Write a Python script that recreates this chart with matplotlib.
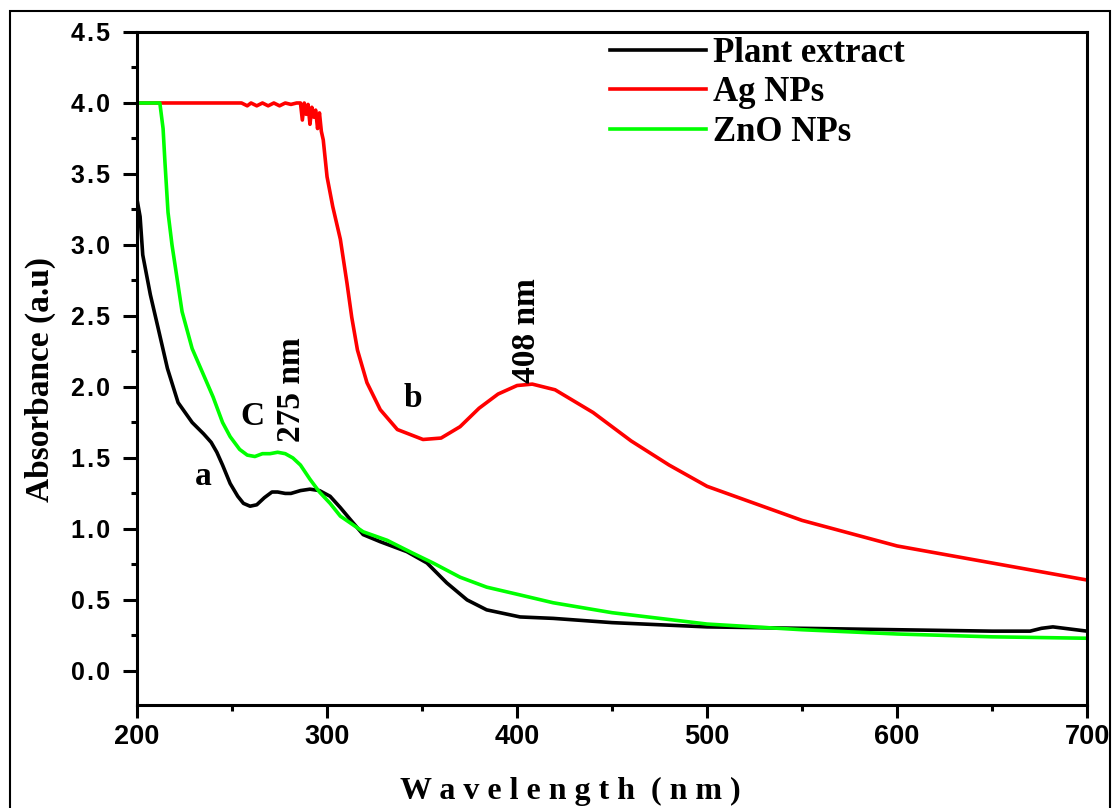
import numpy as np
import matplotlib
matplotlib.use('Agg')
import matplotlib.pyplot as plt
from matplotlib.patches import Rectangle
from matplotlib.ticker import MultipleLocator

# Plant extract (black)
plant_wl = [200, 201.6, 203, 207, 211, 216, 221.6, 229, 235, 239, 242, 245, 249, 253, 256, 259.5, 263,
            267, 271, 274, 278, 281, 286, 291, 296, 301.6, 307, 312, 319, 328, 342, 352.6, 363,
            373.7, 384, 401.6, 419, 450, 500, 550, 600, 650, 670, 676, 682, 688, 694, 700]
plant_abs = [3.32, 3.2, 2.93, 2.65, 2.42, 2.13, 1.89, 1.75, 1.67, 1.61, 1.54, 1.45, 1.32, 1.23, 1.18, 1.16, 1.17,
             1.22, 1.26, 1.26, 1.25, 1.25, 1.27, 1.28, 1.27, 1.23, 1.15, 1.07, 0.96, 0.91, 0.84, 0.76, 0.62,
             0.50, 0.43, 0.38, 0.37, 0.34, 0.31, 0.30, 0.29, 0.28, 0.28, 0.30, 0.31, 0.30, 0.29, 0.28]

# Ag NPs (red), saturated at 4.0 with noise before the drop
ag_wl = [200, 255, 258, 260, 263, 266, 269, 272, 275, 278, 281, 284, 286, 287, 288, 289, 290, 291,
         292, 293, 294, 295, 296, 297, 298, 300, 303, 307, 310.5, 313, 316, 321, 328, 337, 350.5,
         360, 370, 380, 390, 400, 408, 420, 440, 460, 480, 500, 550, 600, 650, 700]
ag_abs = [4.0, 4.0, 3.98, 4.0, 3.98, 4.0, 3.98, 4.0, 3.98, 4.0, 3.99, 4.0, 4.0, 3.88, 4.0, 3.92, 3.99, 3.85,
          3.97, 3.9, 3.95, 3.82, 3.93, 3.8, 3.74, 3.48, 3.27, 3.04, 2.73, 2.49, 2.26, 2.03, 1.84, 1.70, 1.63,
          1.64, 1.72, 1.85, 1.95, 2.01, 2.02, 1.98, 1.82, 1.62, 1.45, 1.30, 1.06, 0.88, 0.76, 0.64]

# ZnO NPs (green)
zno_wl = [200, 212, 213.7, 214.7, 216.3, 218.4, 221, 223.7, 229, 235.8, 240, 245, 249, 254, 258, 262,
          266, 270, 274, 278, 282, 286, 291, 296, 301.6, 307, 319, 331.6, 345, 355.8, 370, 384,
          401.6, 419, 450, 500, 550, 600, 650, 700]
zno_abs = [4.0, 4.0, 3.82, 3.58, 3.23, 3.0, 2.77, 2.53, 2.27, 2.06, 1.93, 1.75, 1.65, 1.56, 1.52, 1.51,
           1.53, 1.53, 1.54, 1.53, 1.50, 1.45, 1.35, 1.26, 1.18, 1.09, 0.98, 0.92, 0.83, 0.76, 0.66, 0.59,
           0.535, 0.48, 0.41, 0.33, 0.29, 0.26, 0.24, 0.23]

yticks = [0.0, 0.5, 1.0, 1.5, 2.0, 2.5, 3.0, 3.5, 4.0, 4.5]
xticks = [200, 300, 400, 500, 600, 700]

serif = 'Liberation Serif'
sans = ['Liberation Sans', 'DejaVu Sans']

fig = plt.figure(figsize=(11.16, 8.08), dpi=100)
ax = fig.add_axes([0.1228, 0.1275, 0.8513, 0.8329])

lw = 2.6
ax.plot(plant_wl, plant_abs, color='black', lw=lw, label='Plant extract')
ax.plot(ag_wl, ag_abs, color='#ff0000', lw=lw, label='Ag NPs')
ax.plot(zno_wl, zno_abs, color='#00ff00', lw=lw, label='ZnO NPs')

ax.set_xlim(200, 700)
ax.set_ylim(-0.24, 4.5)
ax.set_xticks(xticks)
ax.set_xticklabels([str(v) for v in xticks], family=sans, fontweight='bold', fontsize=19.5)
ax.xaxis.set_minor_locator(MultipleLocator(50))
ax.set_yticks(yticks)
ax.set_yticklabels([('%.1f' % v).replace('.', '\u200a.\u200a') for v in yticks],
                   family=sans, fontweight='bold', fontsize=18)
ax.yaxis.set_minor_locator(MultipleLocator(0.25))
ax.tick_params(axis='x', which='major', direction='out', length=9.5, width=2.2, pad=4)
ax.tick_params(axis='y', which='major', direction='out', length=10, width=2.2, pad=9.5)
ax.tick_params(which='minor', direction='out', length=4.5, width=2.2)
ax.tick_params(which='both', top=False, right=False)
for s in ax.spines.values():
    s.set_linewidth(2.2)

fig.text(570 / 1116, 1 - 791 / 808, 'W a v e l e n g t h  ( n m )', fontsize=23, fontweight='bold',
         family=serif, ha='center', va='center')
fig.text(40 / 1116, 1 - 380 / 808, 'Absorbance (a.u)', fontsize=24, fontweight='bold', family=serif,
         ha='center', va='center', rotation=90)

ax.text(281.3, 1.98, '275 nm', rotation=90, fontsize=24, fontweight='bold', family=serif,
        ha='center', va='center')
ax.text(405, 2.40, '408 nm', rotation=90, fontsize=24, fontweight='bold', family=serif,
        ha='center', va='center')
ax.text(260.5, 1.79, 'C', fontsize=24, fontweight='bold', family=serif, ha='center', va='center')
ax.text(234.7, 1.37, 'a', fontsize=24, fontweight='bold', family=serif, ha='center', va='center')
ax.text(345, 1.92, 'b', fontsize=24, fontweight='bold', family=serif, ha='center', va='center')

ax.legend(loc='upper left', bbox_to_anchor=(0.480, 1.018), frameon=False, borderpad=0,
          handlelength=2.74, handletextpad=0.2, labelspacing=0.18,
          prop={'family': serif, 'weight': 'bold', 'size': 25})

fig.patches.append(Rectangle((0.009, -0.01), 0.986, 0.997, transform=fig.transFigure,
                             fill=False, edgecolor='black', lw=1.5))

fig.savefig('out.png', dpi=100)
